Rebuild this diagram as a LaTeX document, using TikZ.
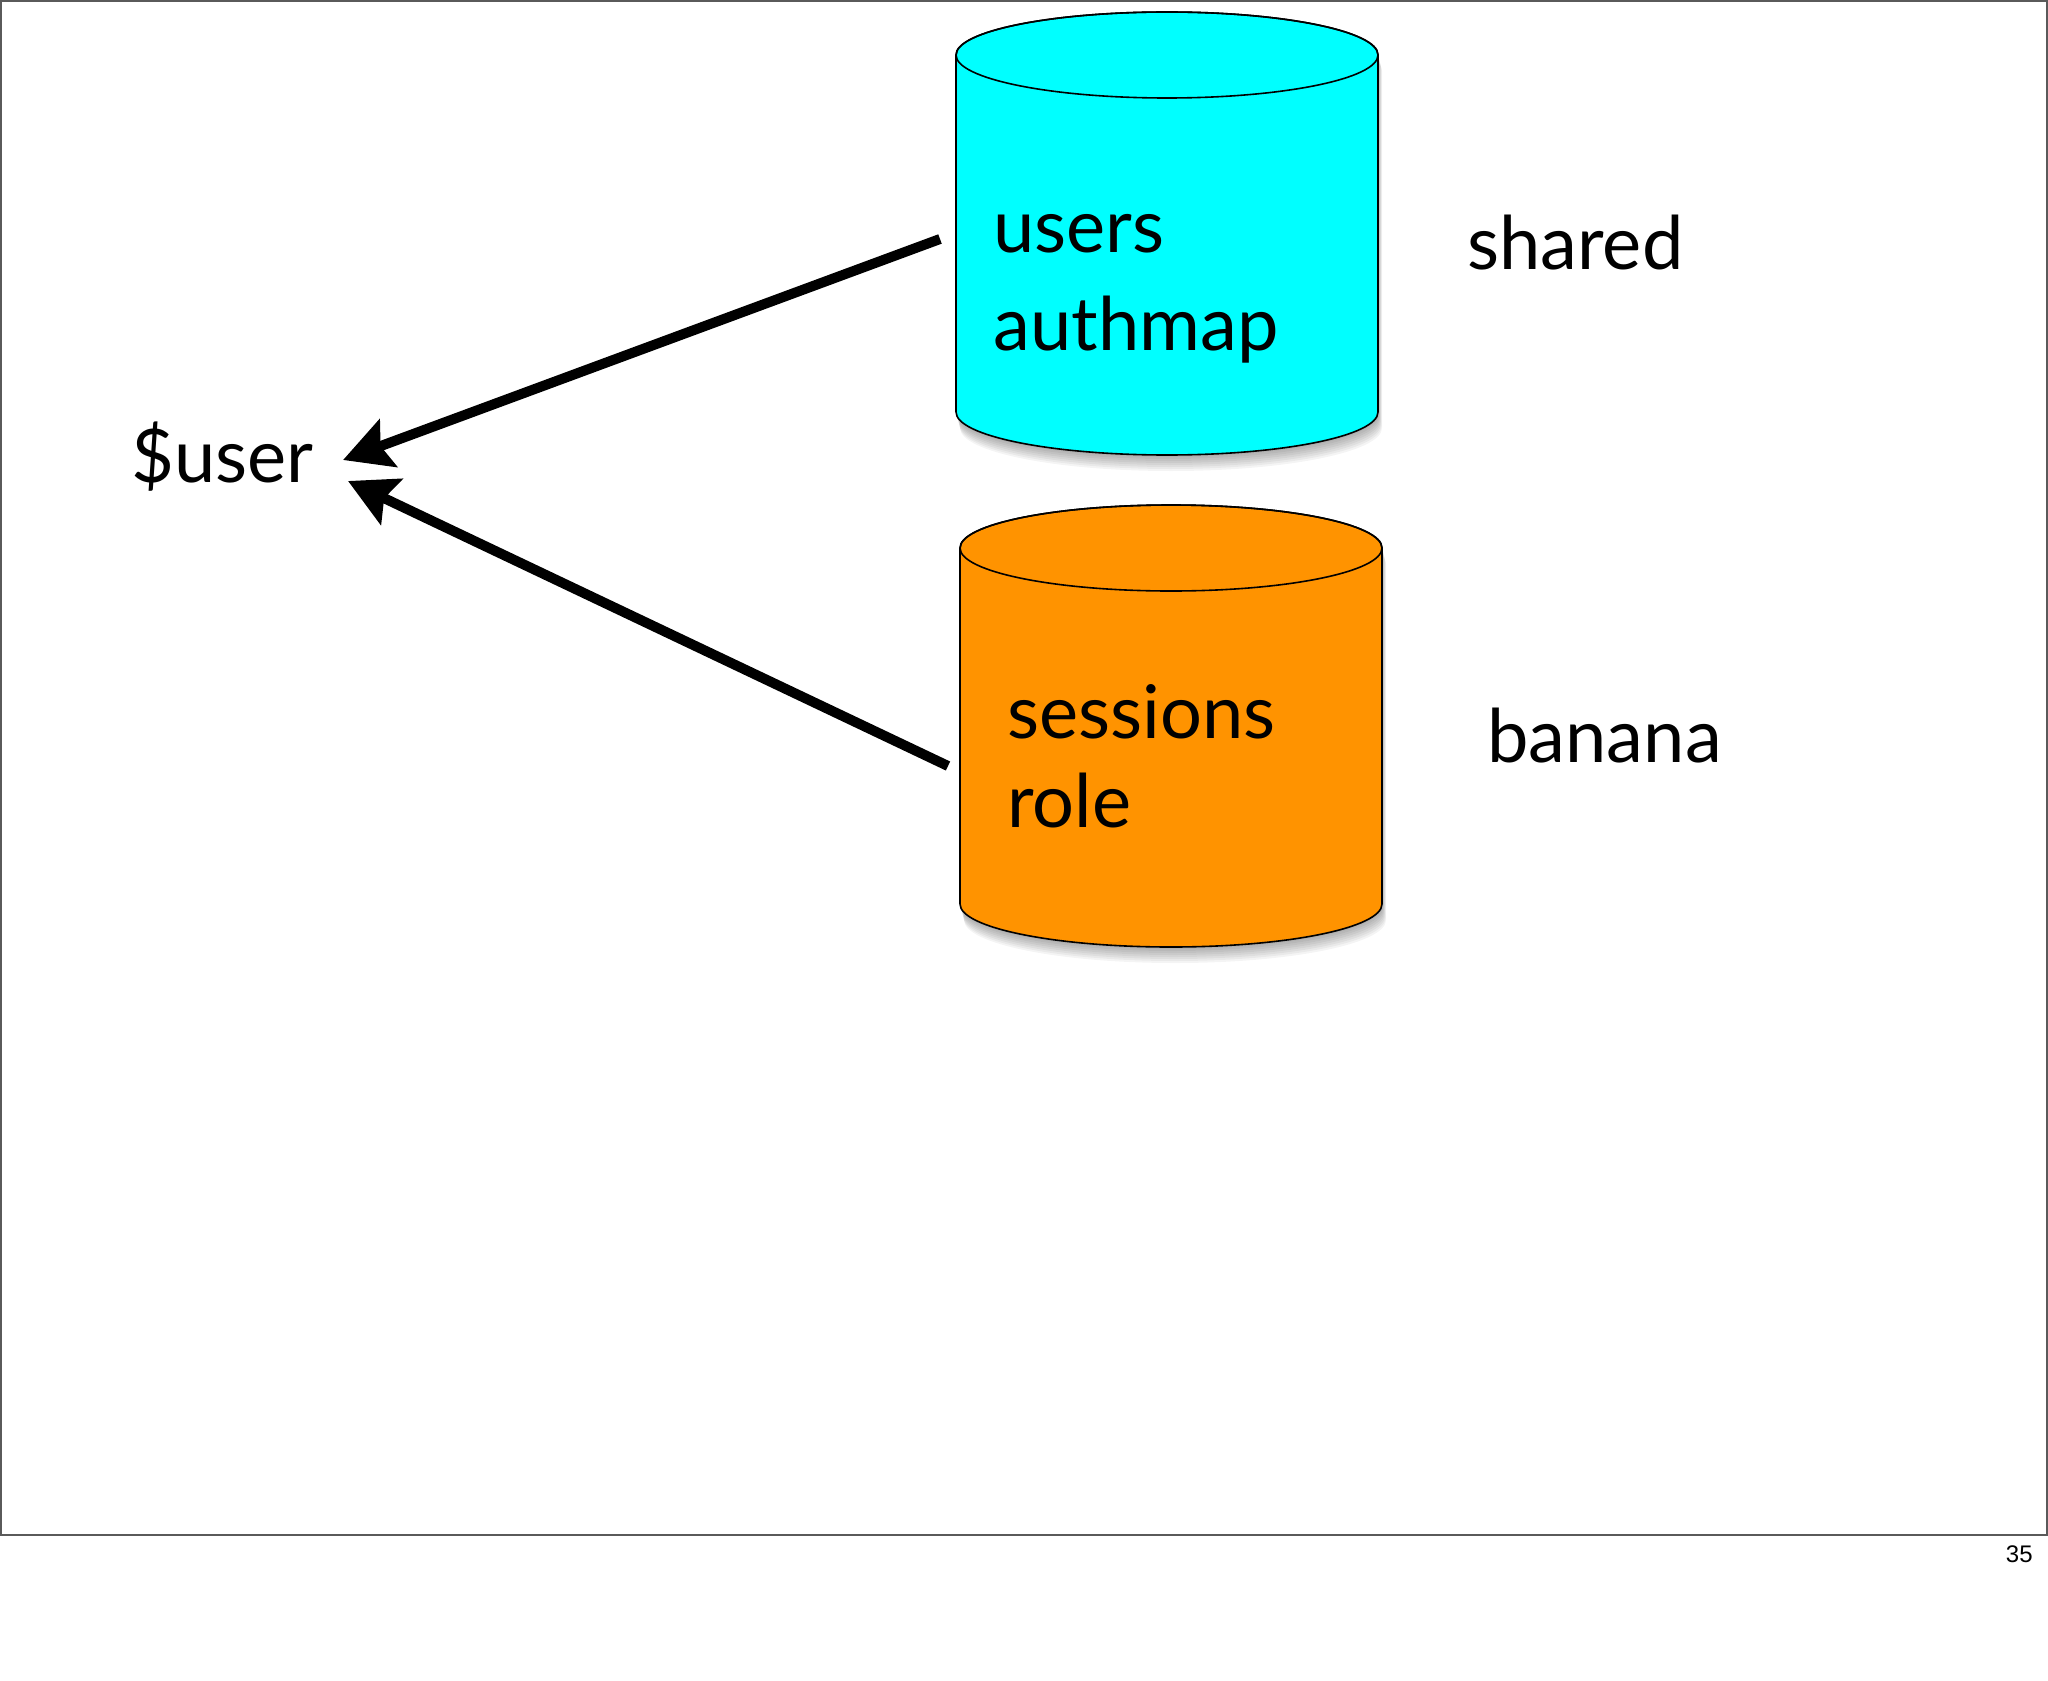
\documentclass[tikz,border=0pt]{standalone}
\usepackage{fontspec}
\setmainfont{Lato}
\newfontfamily\numfont{Liberation Sans}
\usetikzlibrary{arrows.meta}
\definecolor{dbcyan}{RGB}{0,255,255}
\definecolor{dborange}{RGB}{255,147,0}
\definecolor{framegray}{RGB}{90,90,90}
\tikzset{
  cylp/.style n args={5}{insert path={(#1-#4,#2) -- (#1-#4,#3)
     arc[start angle=180,end angle=0,x radius=#4,y radius=#5] -- (#1+#4,#2)
     arc[start angle=0,end angle=-180,x radius=#4,y radius=#5] -- cycle}},
  dbline/.style={draw=black,line width=0.8pt},
  big/.style={font=\fontsize{37}{45}\selectfont,inner sep=0pt,anchor=base west},
  arr/.style={line width=5pt,-{Stealth[length=24pt,width=25pt,inset=4pt]}},
}
\begin{document}
\begin{tikzpicture}[x=0.5pt,y=-0.5pt]
\useasboundingbox (0,0) rectangle (2048,1680);
\fill[white] (0,0) rectangle (2048,1680);
\draw[framegray,line width=1pt] (1,1) rectangle (2047,1535);
% shadows
\foreach \s in {2,4,...,16}{
  \fill[black,opacity=0.045,shift={(\s*0.25,\s)},cylp={1167}{55}{412}{211}{43}];
  \fill[black,opacity=0.045,shift={(\s*0.25,\s)},cylp={1171}{548}{904}{211}{43}];
}
% top cylinder
\fill[dbcyan,cylp={1167}{55}{412}{211}{43}];
\draw[dbline,cylp={1167}{55}{412}{211}{43}];
\draw[dbline] (1167,55) ellipse[x radius=211,y radius=43];
% bottom cylinder
\fill[dborange,cylp={1171}{548}{904}{211}{43}];
\draw[dbline,cylp={1171}{548}{904}{211}{43}];
\draw[dbline] (1171,548) ellipse[x radius=211,y radius=43];
% labels
\node[big] (users) at (993,252) {users};
\node[big] (authmap) at (993,350) {authmap};
\node[big] (sessions) at (1007,738) {sessions};
\node[big] (role) at (1007,827) {role};
\node[big] (shared) at (1467,270) {shared};
\node[big] (banana) at (1487,762) {banana};
\node[big] (user) at (131,482) {\$user};
\node[anchor=base east,inner sep=0pt,font=\numfont\fontsize{12}{14}\selectfont] (pnum) at (2033,1562) {35};
% arrows
\coordinate (a1s) at (940,239);
\coordinate (a1t) at (343,460);
\coordinate (a2s) at (948,766);
\coordinate (a2t) at (348,481);
\draw[arr] (a1s) -- (a1t);
\draw[arr] (a2s) -- (a2t);
\end{tikzpicture}
\end{document}
